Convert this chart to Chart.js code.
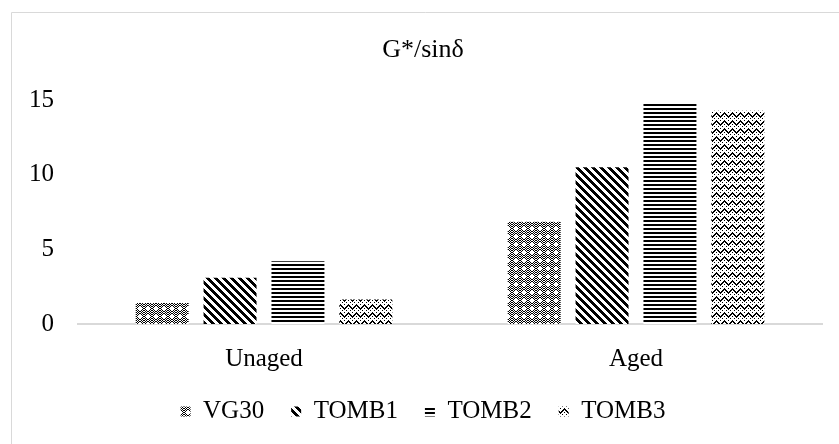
<!DOCTYPE html>
<html>
<head>
<meta charset="utf-8">
<script src="https://cdn.jsdelivr.net/npm/chart.js@4.4.0/dist/chart.umd.min.js"></script>
<style>
  html, body { margin: 0; padding: 0; background: #fff; overflow: hidden; }
  #wrap { width: 839px; height: 444px; }
</style>
</head>
<body>
<div id="wrap"><canvas id="gchart" width="839" height="444"></canvas></div>
<script>
const categories = ['Unaged', 'Aged'];
const seriesNames = ['VG30', 'TOMB1', 'TOMB2', 'TOMB3'];
const vg30 = [1.4, 6.85];
const tomb1 = [3.1, 10.5];
const tomb2 = [4.2, 14.75];
const tomb3 = [1.65, 14.3];
const yTicks = [0, 5, 10, 15];

const fontFam = "'Liberation Serif', 'Times New Roman', serif";

// black & white fill patterns, one per series
function makePattern(rows) {
  const c = document.createElement('canvas');
  c.width = rows[0].length;
  c.height = rows.length;
  const cx = c.getContext('2d');
  cx.fillStyle = '#fff';
  cx.fillRect(0, 0, c.width, c.height);
  cx.fillStyle = '#000';
  rows.forEach((r, y) => {
    for (let x = 0; x < r.length; x++) {
      if (r[x] === '#') cx.fillRect(x, y, 1, 1);
    }
  });
  return document.getElementById('gchart').getContext('2d').createPattern(c, 'repeat');
}

function rowsFrom(w, h, fn) {
  const out = [];
  for (let y = 0; y < h; y++) {
    let s = '';
    for (let x = 0; x < w; x++) s += fn(x, y) ? '#' : '.';
    out.push(s);
  }
  return out;
}

const patVG30 = makePattern([
  '#.#..#.#',
  '.#.##.#.',
  '#.#..#.#',
  '.#....#.',
  '#......#',
  '.#....#.',
  '#.#..#.#',
  '.#.##.#.'
]);
const patTOMB1 = makePattern(rowsFrom(8, 8, (x, y) => ((x - y + 16) % 8) < 4));
const patTOMB2 = makePattern(rowsFrom(4, 4, (x, y) => y < 2));
const patTOMB3 = makePattern(rowsFrom(8, 8, (x, y) => {
  const z = Math.abs((x % 8) - 4);
  const d = (y - z + 16) % 8;
  return d === 0 || d === 1 || (d === 4 && x % 2 === 0);
}));

const frame = {
  id: 'frame',
  beforeDraw(chart) {
    const ctx = chart.ctx;
    ctx.save();
    ctx.strokeStyle = '#d9d9d9';
    ctx.lineWidth = 1;
    ctx.beginPath();
    ctx.moveTo(11.5, chart.height + 2);
    ctx.lineTo(11.5, 12.5);
    ctx.lineTo(chart.width + 2, 12.5);
    ctx.stroke();
    ctx.restore();
  }
};

const data = {
  labels: categories,
  datasets: [
    { label: seriesNames[0], data: vg30, backgroundColor: patVG30 },
    { label: seriesNames[1], data: tomb1, backgroundColor: patTOMB1 },
    { label: seriesNames[2], data: tomb2, backgroundColor: patTOMB2 },
    { label: seriesNames[3], data: tomb3, backgroundColor: patTOMB3 }
  ]
};

const config = {
  type: 'bar',
  data: data,
  plugins: [frame],
  options: {
    responsive: false,
    animation: false,
    categoryPercentage: 0.73,
    barPercentage: 0.78,
    borderWidth: 0,
    layout: { padding: { left: 24, right: 17, top: 12, bottom: 10 } },
    scales: {
      x: {
        grid: { display: false, drawTicks: false },
        border: { display: true, color: '#d9d9d9', width: 2 },
        ticks: { color: '#000', padding: 20, font: { family: fontFam, size: 25 } },
        afterFit: (s) => { s.height = 48; }
      },
      y: {
        min: 0,
        max: 15,
        grid: { display: false, drawTicks: false },
        border: { display: false },
        afterBuildTicks: (s) => { s.ticks = yTicks.map(v => ({ value: v })); },
        ticks: { color: '#000', padding: 24, font: { family: fontFam, size: 25 } },
        afterFit: (s) => { s.width = 54; }
      }
    },
    plugins: {
      title: {
        display: true,
        text: 'G*/sinδ',
        color: '#000',
        font: { family: fontFam, size: 26, weight: 'normal' },
        padding: { top: 23, bottom: 34 }
      },
      legend: {
        position: 'bottom',
        labels: {
          color: '#000',
          boxWidth: 10,
          boxHeight: 10,
          padding: 27,
          font: { family: fontFam, size: 25 }
        }
      },
      tooltip: { enabled: false }
    }
  }
};

const myChart = new Chart(document.getElementById('gchart'), config);
</script>
</body>
</html>
